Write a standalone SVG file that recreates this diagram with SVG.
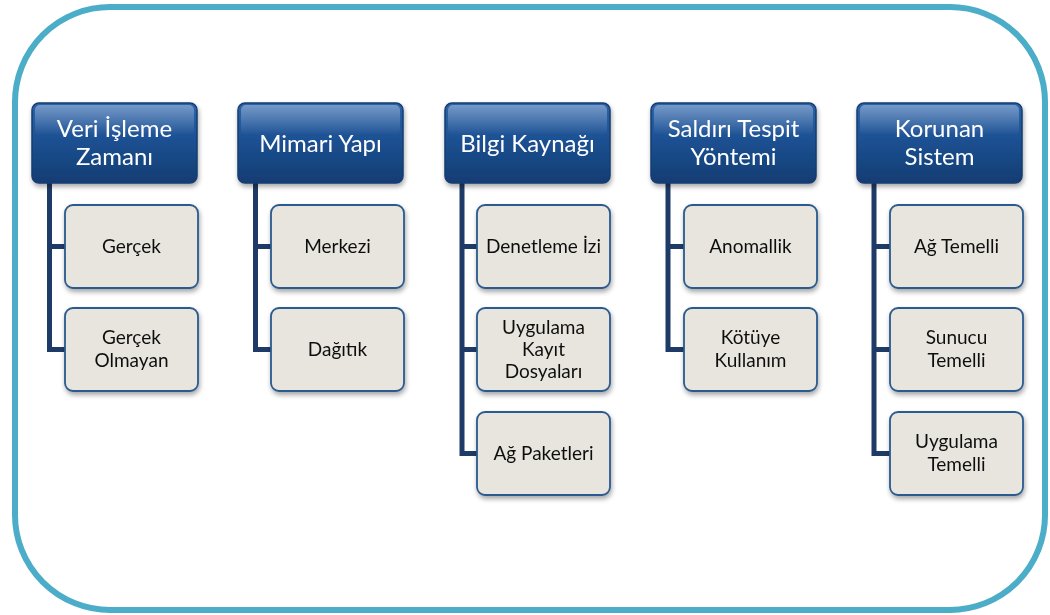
<svg xmlns="http://www.w3.org/2000/svg" width="1050" height="615" viewBox="0 0 1050 615">
<style>
.hd{fill:url(#hg);stroke:#163E70;stroke-width:1.5}
.gl{fill:url(#gloss)}
.ch{fill:#E7E5DD;stroke:#2B5A8E;stroke-width:1.8}
.ht{font-family:Lato,"Open Sans",sans-serif;font-size:24px;fill:#FFFFFF;text-anchor:middle}
.ct{font-family:Lato,"Open Sans",sans-serif;font-size:19px;fill:#111111;text-anchor:middle}
.cn{fill:none;stroke:#1E3A66;stroke-width:5;stroke-linejoin:miter}
</style>
<defs>
<linearGradient id="hg" x1="0" y1="0" x2="0" y2="1">
<stop offset="0" stop-color="#2C63AA"/>
<stop offset="0.5" stop-color="#1C4F90"/>
<stop offset="1" stop-color="#113C72"/>
</linearGradient>
<linearGradient id="gloss" x1="0" y1="0" x2="0" y2="1">
<stop offset="0" stop-color="#FFFFFF" stop-opacity="0.35"/>
<stop offset="1" stop-color="#FFFFFF" stop-opacity="0"/>
</linearGradient>
<filter id="sh" x="-10%" y="-10%" width="125%" height="135%">
<feGaussianBlur in="SourceAlpha" stdDeviation="2.5"/>
<feOffset dx="1" dy="3" result="b"/>
<feComponentTransfer><feFuncA type="linear" slope="0.35"/></feComponentTransfer>
<feMerge><feMergeNode/><feMergeNode in="SourceGraphic"/></feMerge>
</filter>
</defs>
<rect x="0" y="0" width="1050" height="615" fill="#FFFFFF"/>
<rect id="frame" x="15" y="7" width="1030" height="603" rx="95" ry="95" fill="none" stroke="#4BADC7" stroke-width="6"/>

<g id="connectors">
<path class="cn" d="M49.5 183 V349.5 H65 M49.5 246.5 H65"/>
<path class="cn" d="M255.5 183 V349.5 H271 M255.5 246.5 H271"/>
<path class="cn" d="M462 183 V453.5 H477 M462 246.5 H477 M462 349.5 H477"/>
<path class="cn" d="M668 183 V349.5 H684 M668 246.5 H684"/>
<path class="cn" d="M874 183 V453.5 H890 M874 246.5 H890 M874 349.5 H890"/>
</g>

<g id="h1" filter="url(#sh)">
<rect class="hd" x="32" y="103" width="165" height="80" rx="7"/>
<rect class="gl" x="35" y="105" width="159" height="30" rx="5"/>
<text class="ht" x="114.5" y="137">Veri İşleme</text>
<text class="ht" x="114.5" y="165">Zamanı</text>
</g>
<g id="h2" filter="url(#sh)">
<rect class="hd" x="238" y="103" width="165" height="80" rx="7"/>
<rect class="gl" x="241" y="105" width="159" height="30" rx="5"/>
<text class="ht" x="320.5" y="151.5">Mimari Yapı</text>
</g>
<g id="h3" filter="url(#sh)">
<rect class="hd" x="445" y="103" width="165" height="80" rx="7"/>
<rect class="gl" x="448" y="105" width="159" height="30" rx="5"/>
<text class="ht" x="527.5" y="151.5">Bilgi Kaynağı</text>
</g>
<g id="h4" filter="url(#sh)">
<rect class="hd" x="651" y="103" width="165" height="80" rx="7"/>
<rect class="gl" x="654" y="105" width="159" height="30" rx="5"/>
<text class="ht" x="733.5" y="137">Saldırı Tespit</text>
<text class="ht" x="733.5" y="165">Yöntemi</text>
</g>
<g id="h5" filter="url(#sh)">
<rect class="hd" x="857" y="103" width="165" height="80" rx="7"/>
<rect class="gl" x="860" y="105" width="159" height="30" rx="5"/>
<text class="ht" x="939.5" y="137">Korunan</text>
<text class="ht" x="939.5" y="165">Sistem</text>
</g>

<g id="c1a" filter="url(#sh)"><rect class="ch" x="65" y="205" width="133" height="83" rx="8"/><text class="ct" x="131.5" y="253">Gerçek</text></g>
<g id="c1b" filter="url(#sh)"><rect class="ch" x="65" y="308" width="133" height="83" rx="8"/><text class="ct" x="131.5" y="344">Gerçek</text><text class="ct" x="131.5" y="367">Olmayan</text></g>

<g id="c2a" filter="url(#sh)"><rect class="ch" x="271" y="205" width="133" height="83" rx="8"/><text class="ct" x="337.5" y="253">Merkezi</text></g>
<g id="c2b" filter="url(#sh)"><rect class="ch" x="271" y="308" width="133" height="83" rx="8"/><text class="ct" x="337.5" y="356">Dağıtık</text></g>

<g id="c3a" filter="url(#sh)"><rect class="ch" x="477" y="205" width="133" height="83" rx="8"/><text class="ct" x="543.5" y="253">Denetleme İzi</text></g>
<g id="c3b" filter="url(#sh)"><rect class="ch" x="477" y="308" width="133" height="83" rx="8"/><text class="ct" x="543.5" y="334">Uygulama</text><text class="ct" x="543.5" y="356">Kayıt</text><text class="ct" x="543.5" y="378">Dosyaları</text></g>
<g id="c3c" filter="url(#sh)"><rect class="ch" x="477" y="412" width="133" height="83" rx="8"/><text class="ct" x="543.5" y="460">Ağ Paketleri</text></g>

<g id="c4a" filter="url(#sh)"><rect class="ch" x="684" y="205" width="133" height="83" rx="8"/><text class="ct" x="750.5" y="253">Anomallik</text></g>
<g id="c4b" filter="url(#sh)"><rect class="ch" x="684" y="308" width="133" height="83" rx="8"/><text class="ct" x="750.5" y="344">Kötüye</text><text class="ct" x="750.5" y="367">Kullanım</text></g>

<g id="c5a" filter="url(#sh)"><rect class="ch" x="890" y="205" width="133" height="83" rx="8"/><text class="ct" x="956.5" y="253">Ağ Temelli</text></g>
<g id="c5b" filter="url(#sh)"><rect class="ch" x="890" y="308" width="133" height="83" rx="8"/><text class="ct" x="956.5" y="344">Sunucu</text><text class="ct" x="956.5" y="367">Temelli</text></g>
<g id="c5c" filter="url(#sh)"><rect class="ch" x="890" y="412" width="133" height="83" rx="8"/><text class="ct" x="956.5" y="448">Uygulama</text><text class="ct" x="956.5" y="471">Temelli</text></g>
</svg>
